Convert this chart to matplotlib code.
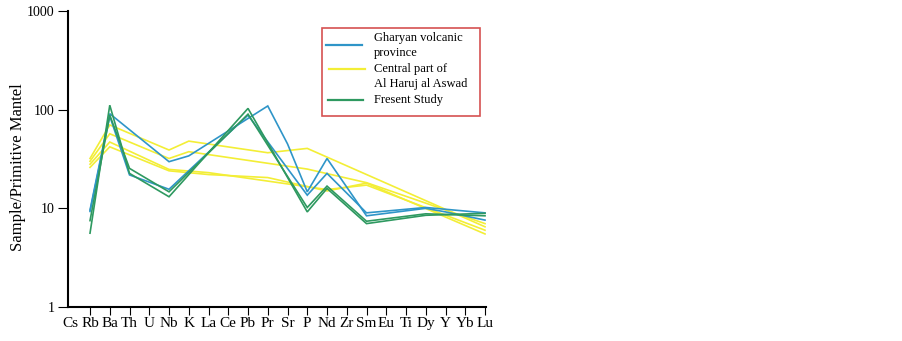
import numpy as np
import matplotlib
matplotlib.use("Agg")
import matplotlib.pyplot as plt
from matplotlib.lines import Line2D
from matplotlib.patches import Rectangle
from matplotlib.ticker import NullLocator
from matplotlib.transforms import ScaledTranslation

plt.rcParams['font.family'] = ['Liberation Serif', 'DejaVu Serif']

# elementos do diagrama (normalizado ao manto primitivo)
elementos = ["Cs", "Rb", "Ba", "Th", "U", "Nb", "K", "La", "Ce", "Pb", "Pr",
             "Sr", "P", "Nd", "Zr", "Sm", "Eu", "Ti", "Dy", "Y", "Yb", "Lu"]
nan = np.nan

# Gharyan volcanic province (azul)
gharyan_1 = [nan, 9.6, 91, nan, nan, 29.7, 34, nan, nan, nan, 109, 45, 14.7, 32,
             nan, 8.4, nan, nan, 10, 9.2, nan, 7.6]
gharyan_2 = [nan, 9.3, 86, 21.8, nan, 15.6, nan, nan, nan, 88, nan, nan, 13.6, 22.6,
             nan, 9.0, nan, nan, 10.2, nan, nan, 9.0]

# Central part of Al Haruj al Aswad (amarelo)
haruj_1 = [nan, 32, 70, nan, nan, 39, 48, nan, nan, nan, 36.6, nan, 40.5, nan,
           nan, nan, nan, nan, nan, nan, nan, 6.5]
haruj_2 = [nan, 30, 57, nan, nan, 32, 37.5, nan, nan, nan, nan, nan, 25, nan,
           nan, 18.2, nan, nan, nan, nan, nan, 7.0]
haruj_3 = [nan, 28, 47, nan, nan, 24.8, nan, 23, nan, nan, nan, nan, nan, 15.5,
           nan, 17.2, nan, nan, nan, nan, nan, 6.0]
haruj_4 = [nan, 26, 42, nan, nan, 24, nan, 22, nan, nan, 20.5, nan, nan, 15.0,
           nan, 18, nan, nan, nan, nan, nan, 5.5]

# Present study (verde)
estudo_1 = [nan, 5.6, 111, 22.6, nan, 13.1, nan, nan, nan, 103, nan, nan, 9.2, 15.9,
            nan, 7.0, nan, nan, 8.5, nan, nan, 8.9]
estudo_2 = [nan, 7.5, 88, 25.4, nan, 14.7, nan, nan, nan, 90, nan, nan, 10.2, 16.8,
            nan, 7.4, nan, nan, 8.8, nan, nan, 8.4]

azul = "#2f95c8"
amarelo = "#f3ee36"
verde = "#2e9960"

W, H = 902, 341
fig = plt.figure(figsize=(W / 100, H / 100), dpi=100)
ax = fig.add_axes([67.5 / W, 34 / H, (486 - 67.5) / W, (307 - 11) / H])

x = np.arange(len(elementos))

def desenha(serie, cor):
    v = np.array(serie, dtype=float)
    m = ~np.isnan(v)
    ax.plot(x[m], v[m], color=cor, lw=1.2, solid_joinstyle="miter")

for s in [haruj_1, haruj_2, haruj_3, haruj_4]:
    desenha(s, amarelo)
for s in [gharyan_1, gharyan_2]:
    desenha(s, azul)
for s in [estudo_1, estudo_2]:
    desenha(s, verde)

ax.set_yscale("log")
ax.set_ylim(1, 1000)
ax.set_xlim(-0.14, 21.05)
ax.set_yticks([1, 10, 100, 1000])
ax.set_yticklabels(["1", "10", "100", "1000"], fontsize=10)
ax.yaxis.set_minor_locator(NullLocator())
ax.set_xticks(x)
ax.set_xticklabels(elementos, fontsize=11)
ax.xaxis.get_major_ticks()[0].tick1line.set_visible(False)
# "Cs" fica um pouco a esquerda do eixo
rotulo_cs = ax.get_xticklabels()[0]
rotulo_cs.set_transform(rotulo_cs.get_transform() + ScaledTranslation(-0.06, 0, fig.dpi_scale_trans))

for lado in ["top", "right"]:
    ax.spines[lado].set_visible(False)
for lado in ["left", "bottom"]:
    ax.spines[lado].set_linewidth(1.5)
ax.tick_params(axis="x", length=6, width=0.8, pad=1)
ax.tick_params(axis="y", length=7, width=0.8, pad=2.5)

fig.text(18 / W, 1 - 167 / H, "Sample/Primitive Mantel", rotation=90,
         ha="center", va="center", fontsize=12)

# legenda desenhada a mao (caixa vermelha)
def fx(px):
    return px / W

def fy(py):
    return 1 - py / H

fig.add_artist(Rectangle((fx(322), fy(116)), fx(480) - fx(322), fy(28) - fy(116),
                         transform=fig.transFigure, fill=False,
                         edgecolor="#d65252", linewidth=1.2))
for (x0, x1, yy, cor) in [(326, 362, 45, azul), (329, 365, 69, amarelo), (328, 363, 100, verde)]:
    fig.add_artist(Line2D([fx(x0), fx(x1)], [fy(yy), fy(yy)], transform=fig.transFigure,
                          color=cor, lw=1.6))
for (yy, txt) in [(38, "Gharyan volcanic"), (53, "province"), (69, "Central part of"),
                  (83.5, "Al Haruj al Aswad"), (100, "Fresent Study")]:
    fig.text(fx(374), fy(yy), txt, ha="left", va="center", fontsize=9)

fig.savefig("out.png", dpi=100)
